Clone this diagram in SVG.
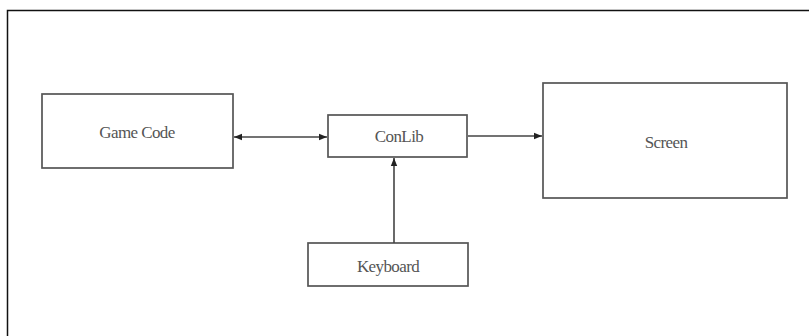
<svg xmlns="http://www.w3.org/2000/svg" width="809" height="336" viewBox="0 0 809 336">
<style>
.box{fill:#fff;stroke:#555;stroke-width:1.7}
.lbl{font-family:"Liberation Serif",serif;font-size:17px;fill:#555;text-anchor:middle;letter-spacing:-0.6px}
.conn{stroke:#444;stroke-width:1.6;fill:none}
</style>
<defs>
<marker id="ah" viewBox="0 0 10 10" refX="10" refY="5" markerWidth="8" markerHeight="8" orient="auto-start-reverse" markerUnits="userSpaceOnUse">
<path d="M0,1 L10,5 L0,9 z" fill="#222"/>
</marker>
</defs>
<rect x="0" y="0" width="809" height="336" fill="#fff"/>
<path d="M7.5,336 V10.5 H809" fill="none" stroke="#111" stroke-width="1.5"/>
<g id="game-code"><rect class="box" x="42" y="94" width="191" height="74"/><text class="lbl" x="137" y="138">Game Code</text></g>
<g id="conlib"><rect class="box" x="328" y="115" width="139" height="42"/><text class="lbl" x="399" y="142">ConLib</text></g>
<g id="screen"><rect class="box" x="543" y="83" width="244" height="115"/><text class="lbl" x="666" y="148">Screen</text></g>
<g id="keyboard"><rect class="box" x="308" y="243" width="160" height="43"/><text class="lbl" x="388" y="272">Keyboard</text></g>
<g id="connectors">
<line class="conn" x1="234" y1="137" x2="327" y2="137" marker-start="url(#ah)" marker-end="url(#ah)"/>
<line class="conn" x1="468" y1="136" x2="542" y2="136" marker-end="url(#ah)"/>
<line class="conn" x1="394" y1="243" x2="394" y2="158" marker-end="url(#ah)"/>
</g>
</svg>
